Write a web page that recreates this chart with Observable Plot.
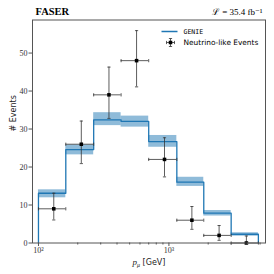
<!DOCTYPE html>
<html>
<head>
<meta charset="utf-8">
<script src="https://cdn.jsdelivr.net/npm/d3@7"></script>
<script src="https://cdn.jsdelivr.net/npm/@observablehq/plot@0.6"></script>
<style>
  html, body { margin: 0; padding: 0; background: white; }
</style>
</head>
<body>
<div id="chart"></div>
<script>
// ---- data ----
const binEdges = [100, 162, 265, 430, 700, 1150, 1850, 3000, 4850];
const genie    = [13.1, 24.6, 32.4, 32.0, 26.7, 16.0, 7.85, 2.3];
const genieLo  = [11.9, 23.2, 30.9, 30.5, 25.2, 14.9, 7.1, 1.8];
const genieHi  = [14.0, 25.8, 34.3, 33.4, 28.3, 17.3, 8.55, 2.7];

const eventX   = [131, 213, 347, 565, 925, 1500, 2425, 3925];
const events   = [9, 26, 39, 48, 22, 6, 2, 0];
const eventLo  = [6.06, 20.9, 32.8, 41.1, 17.4, 3.6, 0.7, 0];
const eventHi  = [13.1, 32.1, 46.3, 55.9, 27.7, 9.6, 4.6, 1.84];

const yTicks = [0, 10, 20, 30, 40, 50];
const xMajorTicks = [100, 1000];
const xMajorLabels = ["10²", "10³"];
const xMinorTicks = [200, 300, 400, 500, 600, 700, 800, 900, 2000, 3000, 4000, 5000];

const titleLeft = "FASER";
const titleRight = "ℒ = 35.4 fb⁻¹";
const yLabel = "# Events";
const legendLabels = ["GENIE", "Neutrino-like Events"];

// ---- derived tables ----
const bins = genie.map((v, i) => ({x1: binEdges[i], x2: binEdges[i + 1], v, lo: genieLo[i], hi: genieHi[i]}));
const steps = [{x: binEdges[0], y: 0}];
bins.forEach(b => { steps.push({x: b.x1, y: b.v}); steps.push({x: b.x2, y: b.v}); });
steps.push({x: binEdges[binEdges.length - 1], y: 0});

const pts = events.map((y, i) => ({x: eventX[i], y, lo: eventLo[i], hi: eventHi[i], x1: binEdges[i], x2: binEdges[i + 1]}));
const vCaps = pts.flatMap(p => [{x: p.x, y: p.lo}, {x: p.x, y: p.hi}]);
const hCaps = pts.flatMap(p => [{x: p.x1, y: p.y}, {x: p.x2, y: p.y}]);

// custom symbols
const hCapSym = {draw(ctx) { ctx.moveTo(-1.6, 0); ctx.lineTo(1.6, 0); }};
const vCapSym = {draw(ctx) { ctx.moveTo(0, -1.6); ctx.lineTo(0, 1.6); }};
const legLineSym = {draw(ctx) { ctx.moveTo(-8, 0); ctx.lineTo(8, 0); }};
const legErrSym = {draw(ctx) {
  ctx.moveTo(-4, 0); ctx.lineTo(4, 0);
  ctx.moveTo(0, -4); ctx.lineTo(0, 4);
  ctx.moveTo(-1.6, -4); ctx.lineTo(1.6, -4);
  ctx.moveTo(-1.6, 4); ctx.lineTo(1.6, 4);
  ctx.moveTo(-4, -1.6); ctx.lineTo(-4, 1.6);
  ctx.moveTo(4, -1.6); ctx.lineTo(4, 1.6);
}};

const serif = "'Liberation Serif', 'DejaVu Serif', serif";
const sans = "'DejaVu Sans', sans-serif";

const chart = Plot.plot({
  width: 274,
  height: 274,
  marginLeft: 32,
  marginRight: 9,
  marginTop: 19.5,
  marginBottom: 31.5,
  x: {type: "log", domain: [90, 5500]},
  y: {domain: [0, 58.7]},
  style: {background: "white", fontFamily: serif, fontSize: "8px", color: "#000"},
  marks: [
    Plot.rect(bins, {x1: "x1", x2: "x2", y1: "lo", y2: "hi", fill: "#1f77b4", fillOpacity: 0.5}),
    Plot.line(steps, {x: "x", y: "y", stroke: "#1f77b4", strokeWidth: 1.3}),
    Plot.ruleX(pts, {x: "x", y1: "lo", y2: "hi", stroke: "#333", strokeWidth: 0.8}),
    Plot.ruleY(pts, {y: "y", x1: "x1", x2: "x2", stroke: "#333", strokeWidth: 0.8}),
    Plot.dot(vCaps, {x: "x", y: "y", symbol: hCapSym, stroke: "#333", strokeWidth: 0.8, fill: "none"}),
    Plot.dot(hCaps, {x: "x", y: "y", symbol: vCapSym, stroke: "#333", strokeWidth: 0.8, fill: "none"}),
    Plot.dot(pts, {x: "x", y: "y", symbol: "square", r: 2, fill: "black", stroke: "none", clip: false}),
    Plot.frame({stroke: "#555", strokeWidth: 1}),
    Plot.axisY(yTicks, {tickSize: 3.5, tickPadding: 1.5, label: null, stroke: "#555", fill: "#333", fontFamily: serif, fontSize: 8}),
    Plot.axisX(xMajorTicks, {tickSize: 3.5, tickPadding: 1, label: null, stroke: "#555", fill: "#333",
      tickFormat: d => xMajorLabels[xMajorTicks.indexOf(d)], fontFamily: serif, fontSize: 8}),
    Plot.axisX(xMinorTicks, {tickSize: 2, label: null, stroke: "#555", tickFormat: () => ""}),
    // titles
    Plot.text([titleLeft], {frameAnchor: "top-left", dx: 3, dy: -5, textAnchor: "start", lineAnchor: "bottom",
      fontWeight: "bold", fontSize: 10.5, fontFamily: serif}),
    Plot.text([titleRight], {frameAnchor: "top-right", dx: -3, dy: -5, textAnchor: "end", lineAnchor: "bottom",
      fontSize: 9, fontFamily: serif}),
    // axis labels
    Plot.text([yLabel], {frameAnchor: "left", dx: -19, rotate: -90, fontSize: 8, fontFamily: sans, fill: "#222"}),
    Plot.text(["XLABEL"], {frameAnchor: "bottom", dy: 19, fontSize: 8, fontFamily: sans, lineAnchor: "middle", fill: "#222"}),
    // legend
    Plot.dot([0], {frameAnchor: "top-right", dx: -96, dy: 11.5, symbol: legLineSym, stroke: "#1f77b4", strokeWidth: 1.5, fill: "none"}),
    Plot.dot([0], {frameAnchor: "top-right", dx: -95, dy: 22.5, symbol: legErrSym, stroke: "#333", strokeWidth: 0.8, fill: "none"}),
    Plot.dot([0], {frameAnchor: "top-right", dx: -95, dy: 22.5, symbol: "square", r: 2, fill: "black", stroke: "none"}),
    Plot.text([legendLabels[0]], {frameAnchor: "top-right", dx: -82, dy: 11.5, textAnchor: "start", lineAnchor: "middle",
      fontSize: 6.5, fontFamily: "'DejaVu Sans Mono', monospace"}),
    Plot.text([legendLabels[1]], {frameAnchor: "top-right", dx: -82, dy: 22.5, textAnchor: "start", lineAnchor: "middle",
      fontSize: 7.4, fontFamily: sans})
  ]
});

document.getElementById("chart").appendChild(chart);

// rich x-axis label: italic p with subscript mu, then [GeV]
d3.select(chart).selectAll("text").filter(function() { return this.textContent === "XLABEL"; }).each(function() {
  const t = d3.select(this);
  t.selectAll("*").remove();
  t.text(null);
  t.append("tspan").attr("font-family", serif).attr("font-style", "italic").attr("font-size", 9).text("p");
  t.append("tspan").attr("font-family", serif).attr("font-style", "italic").attr("font-size", 6).attr("dy", 2).text("μ");
  t.append("tspan").attr("dy", -2).text(" [GeV]");
});
</script>
</body>
</html>
